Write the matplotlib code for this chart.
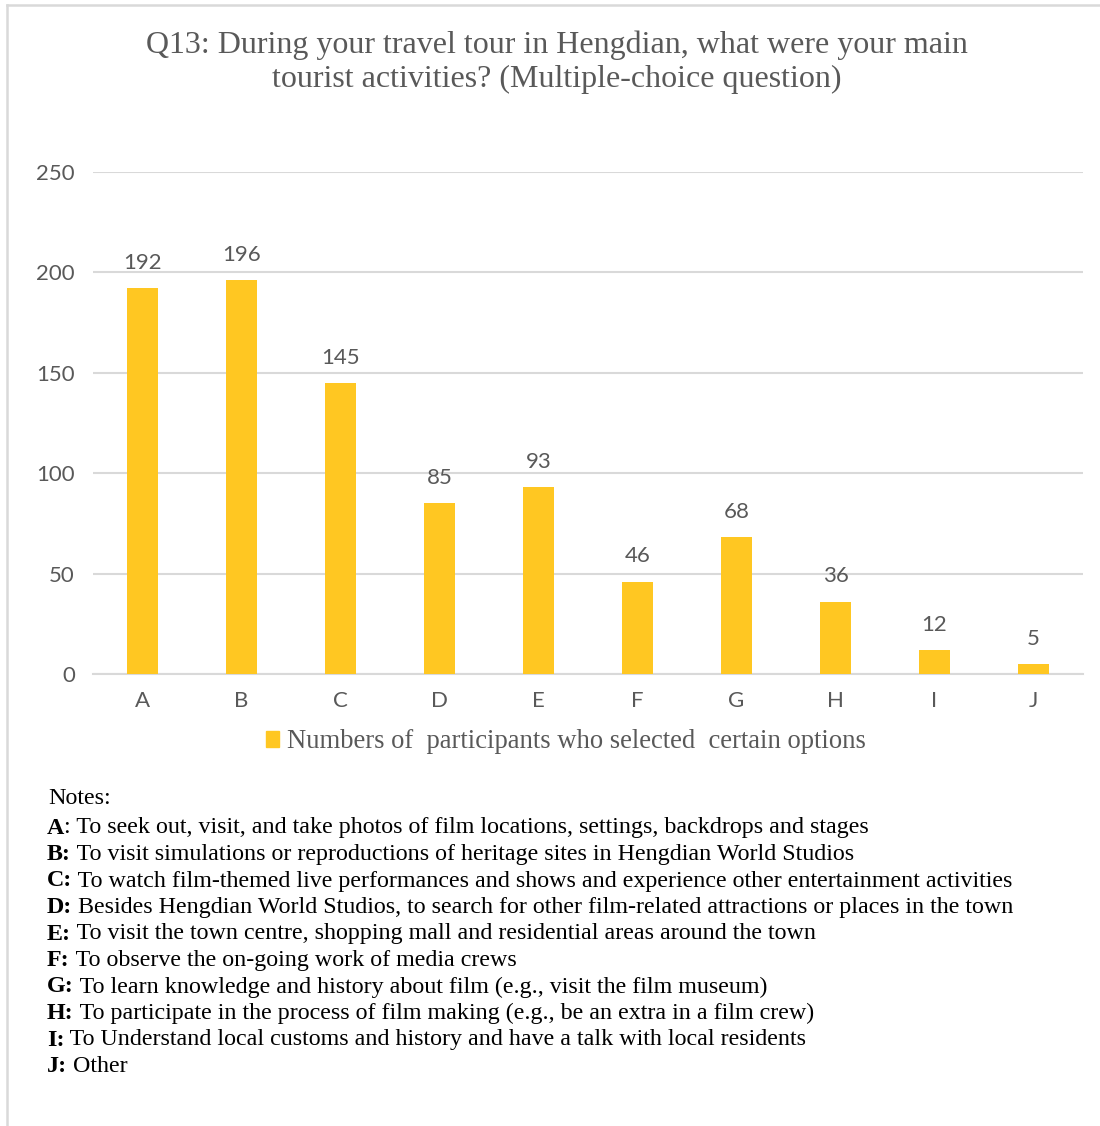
import matplotlib
matplotlib.use("Agg")
import matplotlib.pyplot as plt
from matplotlib.lines import Line2D
from matplotlib.patches import Rectangle

# data
categories = ["A", "B", "C", "D", "E", "F", "G", "H", "I", "J"]
counts = [192, 196, 145, 85, 93, 46, 68, 36, 12, 5]
yticks = [0, 50, 100, 150, 200, 250]

title = ("Q13: During your travel tour in Hengdian, what were your main\n"
         "tourist activities? (Multiple-choice question)")
legend_label = "Numbers of  participants who selected  certain options"

note_keys = ["A", "B:", "C:", "D:", "E:", "F:", "G:", "H:", "I:", "J:"]
note_texts = [
    ": To seek out, visit, and take photos of film locations, settings, backdrops and stages",
    " To visit simulations or reproductions of heritage sites in Hengdian World Studios",
    " To watch film-themed live performances and shows and experience other entertainment activities",
    " Besides Hengdian World Studios, to search for other film-related attractions or places in the town",
    " To visit the town centre, shopping mall and residential areas around the town",
    " To observe the on-going work of media crews",
    " To learn knowledge and history about film (e.g., visit the film museum)",
    " To participate in the process of film making (e.g., be an extra in a film crew)",
    " To Understand local customs and history and have a talk with local residents",
    " Other",
]

W, H = 1100, 1126
bar_color = "#FFC722"
grid_color = "#D9D9D9"
text_gray = "#595959"
serif = "Liberation Serif"
sans = "Lato"

fig = plt.figure(figsize=(W / 100, H / 100), dpi=100)
fig.patch.set_facecolor("white")

# chart frame (top and left edges only are visible)
fig.add_artist(Line2D([7 / W, 1], [1 - 5 / H, 1 - 5 / H], color=grid_color, lw=1.8))
fig.add_artist(Line2D([7 / W, 7 / W], [0, 1 - 5 / H], color=grid_color, lw=1.8))

ax = fig.add_axes([93 / W, 1 - 674 / H, 990 / W, 502 / H])
x = range(len(categories))
bars = ax.bar(x, counts, width=0.31, color=bar_color, zorder=3,
              label=legend_label)
ax.set_xlim(-0.5, len(categories) - 0.5)
ax.set_ylim(0, 250)
ax.set_yticks(yticks)
ax.set_xticks(list(x))
ax.set_xticklabels(categories)
ax.grid(axis="y", color=grid_color, lw=1.5, zorder=0)
ax.set_axisbelow(True)
for s in ["top", "right", "left"]:
    ax.spines[s].set_visible(False)
ax.spines["bottom"].set_color(grid_color)
ax.spines["bottom"].set_linewidth(1.5)
ax.tick_params(axis="both", length=0, labelcolor=text_gray, labelsize=16)
ax.tick_params(axis="y", pad=13)
ax.tick_params(axis="x", pad=12)
for lab in ax.get_xticklabels() + ax.get_yticklabels():
    lab.set_fontfamily(sans)

ax.bar_label(bars, padding=11, color=text_gray, fontsize=16, fontfamily=sans)

fig.text(557 / W, 1 - 62 / H, title, ha="center", va="center",
         fontsize=23, fontfamily=serif, color=text_gray, linespacing=1.2)

handle = Rectangle((0, 0), 1, 1, color=bar_color)
fig.legend([handle], [legend_label], loc="center",
           bbox_to_anchor=(566 / W, 1 - 742 / H), frameon=False,
           prop={"family": serif, "size": 19.2}, labelcolor=text_gray,
           handlelength=0.5, handleheight=0.5, handletextpad=0.3)

# notes block
fig.text(48 / W, 1 - 799 / H, "Notes:", ha="left", va="center",
         fontsize=17.3, fontfamily=serif, color="black")
y0, dy = 828, 26.5
for i, (k, t) in enumerate(zip(note_keys, note_texts)):
    yy = 1 - (y0 + i * dy) / H
    kt = fig.text(47 / W, yy, k, ha="left", va="center", fontsize=17.3,
                  fontfamily=serif, fontweight="bold", color="black")
    ax.annotate(t, xy=(1, 0), xycoords=kt, ha="left", va="bottom",
                fontsize=17.3, fontfamily=serif, color="black")

fig.savefig("out.png", dpi=100, facecolor="white")
